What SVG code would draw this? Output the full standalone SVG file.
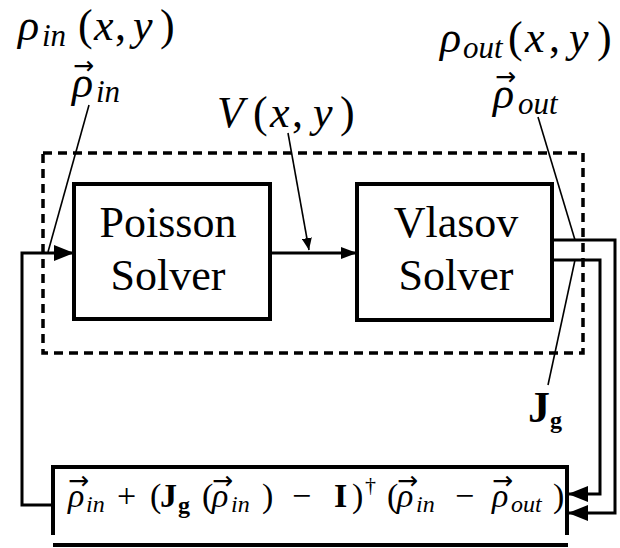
<svg xmlns="http://www.w3.org/2000/svg" width="620" height="548" viewBox="0 0 620 548">
<style>
.box{fill:none;stroke:#000;stroke-width:4}
.dash{fill:none;stroke:#000;stroke-width:3.5;stroke-dasharray:9 6}
.wire{fill:none;stroke:#000;stroke-width:3}
.thin{fill:none;stroke:#000;stroke-width:1.6}
.lbl{font-family:'Liberation Serif','Times New Roman',serif;font-size:44px;fill:#000}
.math{font-family:'Liberation Serif','DejaVu Serif',serif;font-style:italic;font-size:44px;fill:#000}
.eq{font-family:'Liberation Serif','DejaVu Serif',serif;font-style:italic;font-size:34px;fill:#000}
.sub{font-size:31px}
.esub{font-size:24px}
.up{font-style:normal}
.bold{font-weight:bold;font-style:normal}
.vec{font-family:'DejaVu Sans',sans-serif;font-size:25px;fill:#000}
</style>
<defs>
<marker id="ah" markerUnits="userSpaceOnUse" markerWidth="20" markerHeight="16" refX="20" refY="8" orient="auto">
<path d="M0,0 L20,8 L0,16 Z" fill="#000"/>
</marker>
<marker id="ahs" markerUnits="userSpaceOnUse" markerWidth="16" markerHeight="12" refX="16" refY="6" orient="auto">
<path d="M0,0 L16,6 L0,12 Z" fill="#000"/>
</marker>
<marker id="ahv" markerUnits="userSpaceOnUse" markerWidth="12" markerHeight="10" refX="12" refY="5" orient="auto">
<path d="M0,0 L12,5 L0,10 Z" fill="#000"/>
</marker>
</defs>

<g id="solver-group">
<rect class="dash" x="43" y="153" width="540" height="200"/>
</g>

<g id="poisson">
<rect class="box" x="74" y="184" width="196" height="135"/>
<text class="lbl" x="168" y="237" text-anchor="middle">Poisson</text>
<text class="lbl" x="168" y="290" text-anchor="middle">Solver</text>
</g>

<g id="vlasov">
<rect class="box" x="357" y="184" width="195" height="136"/>
<text class="lbl" x="456" y="237" text-anchor="middle">Vlasov</text>
<text class="lbl" x="456" y="290" text-anchor="middle">Solver</text>
</g>

<g id="update">
<path class="box" d="M53 535 V467 H567 V535"/>
<line class="box" x1="53" y1="545" x2="568" y2="545"/>
<text class="eq" y="507"><tspan x="68">ρ</tspan><tspan class="esub" x="86" y="512">in</tspan><tspan class="up" x="117" y="507">+</tspan><tspan class="up" x="150">(</tspan><tspan class="bold" x="160">J</tspan><tspan class="bold esub" x="178" y="513">g</tspan><tspan class="up" x="202" y="507">(</tspan><tspan x="212">ρ</tspan><tspan class="esub" x="231" y="512">in</tspan><tspan class="up" x="262" y="507">)</tspan><tspan class="up" x="292">−</tspan><tspan class="bold" x="334">I</tspan><tspan class="up" x="352">)</tspan><tspan class="up" x="365" y="492" font-size="22">†</tspan><tspan class="up" x="387" y="507">(</tspan><tspan x="397">ρ</tspan><tspan class="esub" x="416" y="512">in</tspan><tspan class="up" x="455" y="507">−</tspan><tspan x="492">ρ</tspan><tspan class="esub" x="511" y="512">out</tspan><tspan class="up" x="553" y="507">)</tspan></text>
<text class="vec" y="489"><tspan x="68">→</tspan><tspan x="212">→</tspan><tspan x="397">→</tspan><tspan x="492">→</tspan></text>
</g>

<g id="labels">
<text class="math" y="40"><tspan x="18">ρ</tspan><tspan class="sub" x="42" y="46">in</tspan><tspan class="up" x="78" y="40">(</tspan><tspan x="94">x</tspan><tspan class="up" x="115">,</tspan><tspan x="133">y</tspan><tspan class="up" x="160">)</tspan></text>
<text class="math" y="97"><tspan x="72">ρ</tspan><tspan class="sub" x="96" y="102">in</tspan></text>
<text class="vec" x="73" y="74">→</text>
<text class="math" y="127"><tspan x="217">V</tspan><tspan class="up" x="253">(</tspan><tspan x="270">x</tspan><tspan class="up" x="292">,</tspan><tspan x="313">y</tspan><tspan class="up" x="340">)</tspan></text>
<text class="math" y="52"><tspan x="440">ρ</tspan><tspan class="sub" x="463" y="58">out</tspan><tspan class="up" x="508" y="52">(</tspan><tspan x="525">x</tspan><tspan class="up" x="549">,</tspan><tspan x="569">y</tspan><tspan class="up" x="597">)</tspan></text>
<text class="math" y="108"><tspan x="493">ρ</tspan><tspan class="sub" x="518" y="114">out</tspan></text>
<text class="vec" x="495" y="85">→</text>
<text class="math bold" x="528" y="422">J<tspan class="esub" dy="6">g</tspan></text>
</g>

<g id="connectors">
<path class="wire" d="M53 505 H22 V253 H74" marker-end="url(#ah)"/>
<path class="wire" d="M270 253 H357" stroke-width="2.2" marker-end="url(#ahs)"/>
<path class="wire" d="M552 240 H615 V513 H568" marker-end="url(#ah)"/>
<path class="wire" d="M552 260 H600 V494 H568" marker-end="url(#ah)"/>
<line class="thin" x1="89" y1="105" x2="48" y2="252"/>
<line class="thin" x1="288" y1="133" x2="309" y2="250" marker-end="url(#ahv)"/>
<line class="thin" x1="538" y1="117" x2="575" y2="240"/>
<line class="thin" x1="575" y1="260" x2="548" y2="385"/>
</g>
</svg>
